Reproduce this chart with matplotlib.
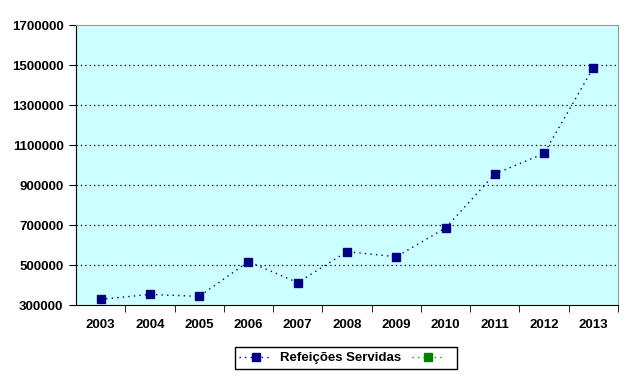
import matplotlib
matplotlib.use("Agg")
import matplotlib.pyplot as plt
from matplotlib.lines import Line2D

years = ["2003", "2004", "2005", "2006", "2007", "2008", "2009", "2010", "2011", "2012", "2013"]
refeicoes = [328000, 353000, 343000, 517000, 412000, 567000, 541000, 685000, 955000, 1058000, 1487000]
y_ticks = [300000, 500000, 700000, 900000, 1100000, 1300000, 1500000, 1700000]
series_label = "Refeições Servidas"

plt.rcParams['font.family'] = ['Liberation Sans', 'DejaVu Sans']

fig = plt.figure(figsize=(6.4, 3.82), dpi=100)
ax = fig.add_axes([76/640, 1 - 305/382, (618-76)/640, (305-25)/382])
ax.set_facecolor('#CCFFFF')

x = list(range(len(years)))
ax.plot(x, refeicoes, color='#000080', linestyle=(0, (1, 3)), linewidth=1.0,
        marker='s', markersize=6, markerfacecolor='#000080', markeredgecolor='#000080', zorder=3)

ax.set_xlim(-0.5, len(years) - 0.5)
ax.set_ylim(300000, 1700000)
ax.set_yticks(y_ticks)
ax.set_yticklabels([str(v) for v in y_ticks], fontsize=9.5, fontweight='bold')
ax.set_xticks(x)
ax.set_xticklabels(years, fontsize=9.5, fontweight='bold')
ax.tick_params(axis='x', length=0, pad=10)
ax.set_xticks([i + 0.5 for i in x], minor=True)
ax.tick_params(axis='x', which='minor', length=5, color='black', direction='out')
ax.tick_params(axis='y', length=5, color='black', direction='out', pad=4)

for v in y_ticks[1:-1]:
    ax.axhline(v, color='black', linestyle=(0, (1, 2.5)), linewidth=0.9, zorder=1)

for s in ['top', 'right']:
    ax.spines[s].set_color('#999999')
for s in ['left', 'bottom']:
    ax.spines[s].set_color('black')

h1 = Line2D([], [], color='#000080', linestyle=(0, (1, 3)), linewidth=1.0, marker='s',
            markersize=6, markerfacecolor='#000080', markeredgecolor='#000080')
h2 = Line2D([], [], color='#00A000', linestyle=(0, (1, 3)), linewidth=1.0, marker='s',
            markersize=6, markerfacecolor='#008000', markeredgecolor='#008000')
leg = fig.legend([h1, h2], [series_label, ""], loc='center', bbox_to_anchor=(346/640, 1 - 358/382),
                 ncol=2, frameon=True, fancybox=False, edgecolor='black', framealpha=1,
                 prop={'size': 9.5, 'weight': 'bold'}, handlelength=2.5, columnspacing=0.8,
                 handletextpad=0.6, borderpad=0.35)
leg.get_frame().set_linewidth(1.0)

fig.savefig("out.png", dpi=100)
